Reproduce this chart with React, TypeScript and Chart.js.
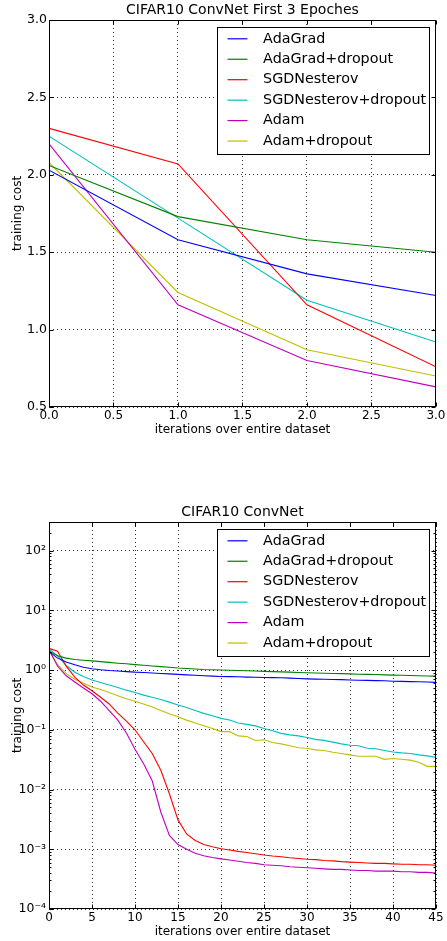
import React, { useEffect, useRef } from "react";
import { Chart, registerables } from "chart.js";

Chart.register(...registerables);

const FONT = '"DejaVu Sans", "Bitstream Vera Sans", sans-serif';
Chart.defaults.font.family = FONT;
Chart.defaults.color = "#000";

// ---------- series ----------
const SERIES_NAMES = [
  "AdaGrad",
  "AdaGrad+dropout",
  "SGDNesterov",
  "SGDNesterov+dropout",
  "Adam",
  "Adam+dropout",
];
const SERIES_COLORS = ["#0000ff", "#008000", "#ff0000", "#00bfbf", "#bf00bf", "#bfbf00"];

// ---------- top chart: first 3 epochs ----------
const TOP_TITLE = "CIFAR10 ConvNet First 3 Epoches";
const EPOCHS_TOP = [0, 1, 2, 3];
const TOP_ADAGRAD = [2.03, 1.58, 1.36, 1.22];
const TOP_ADAGRAD_DROPOUT = [2.06, 1.73, 1.58, 1.5];
const TOP_SGDNESTEROV = [2.3, 2.07, 1.16, 0.76];
const TOP_SGDNESTEROV_DROPOUT = [2.25, 1.72, 1.19, 0.92];
const TOP_ADAM = [2.2, 1.16, 0.8, 0.63];
const TOP_ADAM_DROPOUT = [2.08, 1.24, 0.87, 0.7];
const TOP_X_TICKS = [0, 0.5, 1, 1.5, 2, 2.5, 3];
const TOP_X_TICK_LABELS = ["0.0", "0.5", "1.0", "1.5", "2.0", "2.5", "3.0"];
const TOP_Y_TICKS = [0.5, 1, 1.5, 2, 2.5, 3];
const TOP_Y_TICK_LABELS = ["0.5", "1.0", "1.5", "2.0", "2.5", "3.0"];

// ---------- bottom chart: full run (log scale) ----------
const FULL_TITLE = "CIFAR10 ConvNet";
const EPOCHS_FULL = [
  0, 1, 2, 3, 4, 5, 6, 7, 8, 9, 10, 11, 12, 13, 14, 15, 16, 17, 18, 19, 20, 21, 22,
  23, 24, 25, 26, 27, 28, 29, 30, 31, 32, 33, 34, 35, 36, 37, 38, 39, 40, 41, 42, 43,
  44, 45,
];
const FULL_ADAGRAD = [
  2.03, 1.58, 1.36, 1.22, 1.11, 1.05, 1.01, 0.98, 0.96, 0.94, 0.92, 0.91, 0.89, 0.875,
  0.86, 0.845, 0.83, 0.815, 0.8, 0.79, 0.78, 0.775, 0.77, 0.76, 0.755, 0.75, 0.745, 0.74,
  0.73, 0.72, 0.71, 0.705, 0.7, 0.695, 0.69, 0.68, 0.675, 0.67, 0.665, 0.66, 0.65, 0.645,
  0.64, 0.635, 0.63, 0.62,
];
const FULL_ADAGRAD_DROPOUT = [
  2.06, 1.73, 1.58, 1.5, 1.46, 1.42, 1.38, 1.34, 1.3, 1.27, 1.23, 1.2, 1.17, 1.14, 1.11,
  1.08, 1.06, 1.04, 1.02, 1.01, 1.0, 0.99, 0.98, 0.97, 0.96, 0.95, 0.94, 0.93, 0.92, 0.91,
  0.9, 0.89, 0.88, 0.875, 0.87, 0.86, 0.85, 0.845, 0.84, 0.83, 0.82, 0.815, 0.81, 0.8,
  0.795, 0.79,
];
const FULL_SGDNESTEROV = [
  2.3, 2.07, 1.16, 0.76, 0.56, 0.45, 0.35, 0.27, 0.19, 0.14, 0.1, 0.063, 0.04, 0.021,
  0.0085, 0.0031, 0.0018, 0.0014, 0.0012, 0.0011, 0.00102, 0.00097, 0.00092, 0.00088,
  0.00084, 0.0008, 0.00077, 0.00075, 0.00072, 0.0007, 0.00068, 0.00067, 0.00065, 0.00064,
  0.00062, 0.00061, 0.0006, 0.00059, 0.00058, 0.00058, 0.00057, 0.00056, 0.00056,
  0.00055, 0.00055, 0.00054,
];
const FULL_SGDNESTEROV_DROPOUT = [
  2.25, 1.72, 1.19, 0.92, 0.78, 0.68, 0.62, 0.56, 0.51, 0.46, 0.42, 0.38, 0.35, 0.32,
  0.29, 0.26, 0.235, 0.21, 0.188, 0.172, 0.155, 0.146, 0.13, 0.123, 0.116, 0.105, 0.096,
  0.087, 0.082, 0.079, 0.074, 0.069, 0.0665, 0.062, 0.058, 0.055, 0.054, 0.049, 0.048,
  0.045, 0.0425, 0.041, 0.04, 0.038, 0.0365, 0.0345,
];
const FULL_ADAM = [
  2.2, 1.16, 0.8, 0.63, 0.5, 0.4, 0.3, 0.21, 0.145, 0.088, 0.047, 0.027, 0.014, 0.0042,
  0.0017, 0.0012, 0.001, 0.00086, 0.00078, 0.00073, 0.00069, 0.00066, 0.00063, 0.0006,
  0.00058, 0.00055, 0.00054, 0.00053, 0.00051, 0.0005, 0.00049, 0.00048, 0.00047,
  0.00046, 0.00046, 0.00045, 0.00044, 0.00044, 0.00043, 0.00043, 0.00043, 0.00042,
  0.00042, 0.00041, 0.00041, 0.0004,
];
const FULL_ADAM_DROPOUT = [
  2.08, 1.24, 0.87, 0.7, 0.6, 0.52, 0.47, 0.42, 0.37, 0.33, 0.3, 0.27, 0.24, 0.21, 0.185,
  0.165, 0.145, 0.13, 0.117, 0.105, 0.093, 0.093, 0.079, 0.077, 0.066, 0.068, 0.061,
  0.058, 0.054, 0.05, 0.049, 0.046, 0.045, 0.042, 0.04, 0.038, 0.036, 0.036, 0.036,
  0.032, 0.033, 0.032, 0.031, 0.0285, 0.0244, 0.0244,
];
const FULL_X_TICKS = [0, 5, 10, 15, 20, 25, 30, 35, 40, 45];
const FULL_X_TICK_LABELS = ["0", "5", "10", "15", "20", "25", "30", "35", "40", "45"];
const FULL_Y_TICKS = [1e-4, 1e-3, 1e-2, 1e-1, 1, 10, 100];
const FULL_Y_TICK_LABELS = ["10⁻⁴", "10⁻³", "10⁻²", "10⁻¹", "10⁰", "10¹", "10²"];
const FULL_Y_MIN = 1e-4;
const FULL_Y_MAX = 300;

const X_LABEL = "iterations over entire dataset";
const Y_LABEL = "training cost";

const TOP_SERIES = [
  TOP_ADAGRAD,
  TOP_ADAGRAD_DROPOUT,
  TOP_SGDNESTEROV,
  TOP_SGDNESTEROV_DROPOUT,
  TOP_ADAM,
  TOP_ADAM_DROPOUT,
];
const FULL_SERIES = [
  FULL_ADAGRAD,
  FULL_ADAGRAD_DROPOUT,
  FULL_SGDNESTEROV,
  FULL_SGDNESTEROV_DROPOUT,
  FULL_ADAM,
  FULL_ADAM_DROPOUT,
];

const W = 447;
const GRID_COLOR = "rgba(0,0,0,0.8)";
const GRID_DASH = [1, 3];

// ---------- plugins ----------
const framePlugin = {
  id: "mplFrame",
  afterDatasetsDraw(chart: any, _args: any, opts: any) {
    const { ctx, chartArea: a } = chart;
    const L = Math.round(a.left) + 0.5;
    const R = Math.round(a.right) - 0.5;
    const T = Math.round(a.top) + 0.5;
    const B = Math.round(a.bottom) - 0.5;
    const xs = chart.scales.x;
    const ys = chart.scales.y;
    const MAJ = 4;
    const MIN = 2;
    ctx.save();
    ctx.strokeStyle = "#000";
    ctx.lineWidth = 1;
    ctx.beginPath();
    xs.ticks.forEach((t: any) => {
      const p = Math.round(xs.getPixelForValue(t.value)) + 0.5;
      ctx.moveTo(p, B);
      ctx.lineTo(p, B - MAJ);
      ctx.moveTo(p, T);
      ctx.lineTo(p, T + MAJ);
    });
    ys.ticks.forEach((t: any) => {
      const p = Math.round(ys.getPixelForValue(t.value)) + 0.5;
      ctx.moveTo(L, p);
      ctx.lineTo(L + MAJ, p);
      ctx.moveTo(R, p);
      ctx.lineTo(R - MAJ, p);
    });
    (opts.minorY || []).forEach((v: number) => {
      const p = Math.round(ys.getPixelForValue(v)) + 0.5;
      ctx.moveTo(L, p);
      ctx.lineTo(L + MIN, p);
      ctx.moveTo(R, p);
      ctx.lineTo(R - MIN, p);
    });
    ctx.stroke();
    ctx.strokeRect(L, T, R - L, B - T);
    ctx.restore();
  },
};

const legendPlugin = {
  id: "mplLegend",
  afterDatasetsDraw(chart: any) {
    const { ctx, chartArea: a } = chart;
    const sets = chart.data.datasets;
    ctx.save();
    ctx.font = `14.3px ${FONT}`;
    const maxW = Math.max(...sets.map((d: any) => ctx.measureText(d.label).width));
    const right = Math.round(a.right - 7) + 0.5;
    const top = Math.round(a.top + 7) + 0.5;
    const left = Math.round(right - (45.6 + maxW + 4)) + 0.5;
    const rowH = 20.45;
    const h = 127;
    ctx.fillStyle = "#fff";
    ctx.fillRect(left, top, right - left, h);
    ctx.strokeStyle = "#000";
    ctx.lineWidth = 1;
    ctx.strokeRect(left, top, right - left, h);
    sets.forEach((d: any, i: number) => {
      const y = top + 11.3 + i * rowH;
      ctx.beginPath();
      ctx.strokeStyle = d.borderColor;
      ctx.lineWidth = 1.2;
      ctx.moveTo(left + 10, y);
      ctx.lineTo(left + 30, y);
      ctx.stroke();
      ctx.fillStyle = "#000";
      ctx.textBaseline = "middle";
      ctx.textAlign = "left";
      ctx.fillText(d.label, left + 45.6, y);
    });
    ctx.restore();
  },
};

function makeDatasets(xs: number[], series: number[][]) {
  return SERIES_NAMES.map((name, i) => ({
    label: name,
    data: xs.map((x, j) => ({ x, y: series[i][j] })),
    borderColor: SERIES_COLORS[i],
    backgroundColor: SERIES_COLORS[i],
    borderWidth: 1.1,
    pointRadius: 0,
    tension: 0,
    fill: false,
  }));
}

function axisTitle(text: string, pad: number) {
  return {
    display: true,
    text,
    color: "#000",
    font: { size: 12, family: FONT, weight: "normal" as const },
    padding: { top: pad, bottom: pad },
  };
}

function buildTop(): any {
  const H = 470;
  return {
    type: "line",
    data: { datasets: makeDatasets(EPOCHS_TOP, TOP_SERIES) },
    options: {
      responsive: false,
      animation: false,
      events: [],
      layout: { padding: { left: 0, right: 11, top: 0, bottom: 0 } },
      plugins: {
        legend: { display: false },
        tooltip: { enabled: false },
        title: {
          display: true,
          text: TOP_TITLE,
          fullSize: false,
          color: "#000",
          font: { size: 14, weight: "normal", family: FONT },
          padding: { top: 2.1, bottom: 1.1 },
        },
        mplFrame: { minorY: [] },
      },
      scales: {
        x: {
          type: "linear",
          min: 0,
          max: 3,
          afterBuildTicks: (s: any) => {
            s.ticks = TOP_X_TICKS.map((v) => ({ value: v }));
          },
          afterFit: (s: any) => {
            s.height = H - 407;
          },
          ticks: {
            autoSkip: false,
            maxRotation: 0,
            padding: 1.5,
            font: { size: 12 },
            callback: (_v: any, i: number) => TOP_X_TICK_LABELS[i],
          },
          grid: { color: GRID_COLOR, lineWidth: 1, drawTicks: false },
          border: { display: false, dash: GRID_DASH },
          title: axisTitle(X_LABEL, H - 430 - 7.2),
        },
        y: {
          type: "linear",
          min: 0.5,
          max: 3,
          afterBuildTicks: (s: any) => {
            s.ticks = TOP_Y_TICKS.map((v) => ({ value: v }));
          },
          afterFit: (s: any) => {
            s.width = 49;
          },
          ticks: {
            autoSkip: false,
            padding: 2,
            font: { size: 12.5 },
            callback: (_v: any, i: number) => TOP_Y_TICK_LABELS[i],
          },
          grid: { color: GRID_COLOR, lineWidth: 1, drawTicks: false },
          border: { display: false, dash: GRID_DASH },
          title: axisTitle(Y_LABEL, 10.3),
        },
      },
    },
    plugins: [framePlugin, legendPlugin],
  };
}

function buildFull(): any {
  const H = 471;
  const minor: number[] = [];
  for (let e = -4; e <= 2; e++) {
    for (let k = 2; k <= 9; k++) {
      const v = k * Math.pow(10, e);
      if (v < FULL_Y_MAX) minor.push(v);
    }
  }
  return {
    type: "line",
    data: { datasets: makeDatasets(EPOCHS_FULL, FULL_SERIES) },
    options: {
      responsive: false,
      animation: false,
      events: [],
      layout: { padding: { left: 0, right: 11, top: 0, bottom: 0 } },
      plugins: {
        legend: { display: false },
        tooltip: { enabled: false },
        title: {
          display: true,
          text: FULL_TITLE,
          fullSize: false,
          color: "#000",
          font: { size: 14, weight: "normal", family: FONT },
          padding: { top: 33.6, bottom: 1.6 },
        },
        mplFrame: { minorY: minor },
      },
      scales: {
        x: {
          type: "linear",
          min: 0,
          max: 45,
          afterBuildTicks: (s: any) => {
            s.ticks = FULL_X_TICKS.map((v) => ({ value: v }));
          },
          afterFit: (s: any) => {
            s.height = H - 439;
          },
          ticks: {
            autoSkip: false,
            maxRotation: 0,
            padding: 1.3,
            font: { size: 12 },
            callback: (_v: any, i: number) => FULL_X_TICK_LABELS[i],
          },
          grid: { color: GRID_COLOR, lineWidth: 1, drawTicks: false },
          border: { display: false, dash: GRID_DASH },
          title: axisTitle(X_LABEL, H - 462 - 7.2),
        },
        y: {
          type: "logarithmic",
          min: FULL_Y_MIN,
          max: FULL_Y_MAX,
          afterBuildTicks: (s: any) => {
            s.ticks = FULL_Y_TICKS.map((v) => ({ value: v }));
          },
          afterFit: (s: any) => {
            s.width = 49;
          },
          ticks: {
            autoSkip: false,
            padding: 3,
            font: { size: 12.5 },
            callback: (_v: any, i: number) => FULL_Y_TICK_LABELS[i],
          },
          grid: { color: GRID_COLOR, lineWidth: 1, drawTicks: false },
          border: { display: false, dash: GRID_DASH },
          title: axisTitle(Y_LABEL, 10.3),
        },
      },
    },
    plugins: [framePlugin, legendPlugin],
  };
}

function ChartCanvas({ top, height, build }: { top: number; height: number; build: () => any }) {
  const ref = useRef<HTMLCanvasElement | null>(null);
  useEffect(() => {
    if (!ref.current) return;
    const chart = new Chart(ref.current, build());
    return () => chart.destroy();
  }, []);
  return (
    <canvas
      ref={ref}
      width={W}
      height={height}
      style={{ position: "absolute", left: 0, top, width: W, height, display: "block" }}
    />
  );
}

export default function App() {
  return (
    <div
      style={{
        position: "absolute",
        left: 0,
        top: 0,
        width: W,
        height: 941,
        background: "#fff",
        overflow: "hidden",
      }}
    >
      <ChartCanvas top={0} height={470} build={buildTop} />
      <ChartCanvas top={470} height={471} build={buildFull} />
    </div>
  );
}
